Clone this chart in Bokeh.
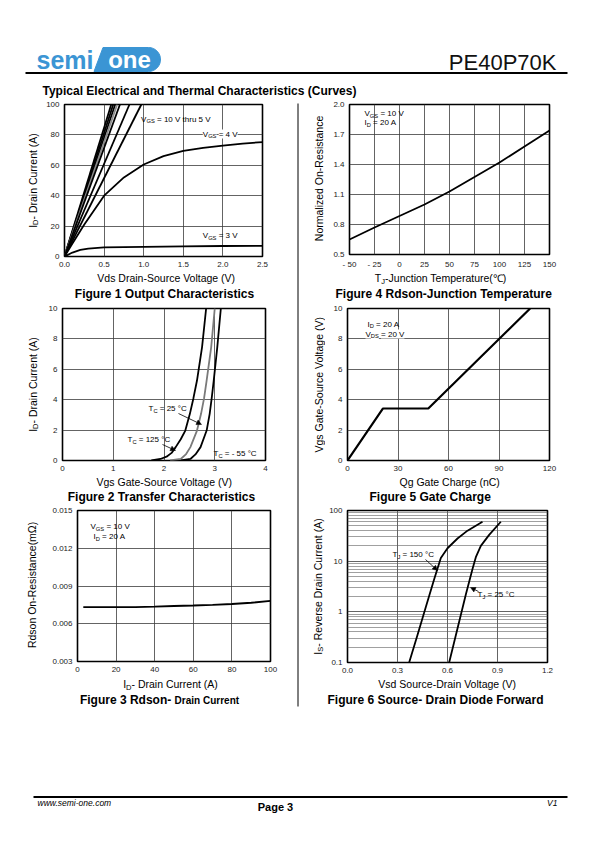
import math
import numpy as np
from bokeh.plotting import figure
from bokeh.layouts import column, row
from bokeh.models import Range1d, FixedTicker, Label, Arrow, NormalHead, NumeralTickFormatter
from bokeh.embed import file_html
from bokeh.resources import INLINE
from bokeh.core.properties import value

FONT = "Liberation Sans"

# ---------------- data ----------------
# Figure 1 Output Characteristics
fig1_vgs_hi_vds_at_100a = [0.59, 0.615, 0.64, 0.665, 0.70, 0.82, 0.97]  # VGS 10 V thru 5 V (straight)
fig1_vgs_hi_id = [0, 100]
fig1_vgs4_vds = [0, 0.1, 0.25, 0.5, 0.75, 1.0, 1.25, 1.5, 1.75, 2.0, 2.25, 2.5]
fig1_vgs4_id = [0, 8.5, 21, 40, 52, 60.5, 66, 69.5, 71.5, 73, 74.3, 75.3]
fig1_vgs3_vds = [0, 0.1, 0.2, 0.3, 0.5, 1.0, 1.5, 2.0, 2.5]
fig1_vgs3_id = [0, 2.6, 4.3, 5.2, 6.0, 6.3, 6.6, 6.9, 7.0]
fig1_x_ticks = [0, 0.5, 1.0, 1.5, 2.0, 2.5]
fig1_y_ticks = [0, 20, 40, 60, 80, 100]

# Figure 4 Rdson-Junction Temperature
fig4_tj = [-50, -25, 0, 25, 50, 75, 100, 125, 150]
fig4_rnorm = [0.65, 0.77, 0.885, 1.0, 1.13, 1.275, 1.42, 1.58, 1.74]
fig4_x_ticks = [-50, -25, 0, 25, 50, 75, 100, 125, 150]
fig4_y_ticks = [0.5, 0.8, 1.1, 1.4, 1.7, 2.0]

# Figure 2 Transfer Characteristics
fig2_vgs_125 = [1.75, 1.93, 2.05, 2.15, 2.23, 2.33, 2.42, 2.51, 2.58, 2.65, 2.75, 2.83]
fig2_id_125 = [0, 0.1, 0.25, 0.5, 0.88, 1.4, 1.97, 3.07, 4.1, 5.26, 7.46, 10]
fig2_vgs_25 = [2.12, 2.33, 2.43, 2.52, 2.65, 2.73, 2.79, 2.84, 2.93, 3.0]
fig2_id_25 = [0, 0.1, 0.4, 0.88, 1.97, 3.07, 4.1, 5.26, 7.46, 10]
fig2_vgs_m55 = [2.33, 2.52, 2.62, 2.72, 2.84, 2.9, 2.94, 2.98, 3.05, 3.12]
fig2_id_m55 = [0, 0.1, 0.4, 0.88, 1.97, 3.07, 4.1, 5.26, 7.46, 10]
fig2_x_ticks = [0, 1, 2, 3, 4]
fig2_y_ticks = [0, 2, 4, 6, 8, 10]

# Figure 5 Gate Charge
fig5_qg = [0, 21, 48, 108.5]
fig5_vgs = [0, 3.42, 3.42, 10]
fig5_x_ticks = [0, 30, 60, 90, 120]
fig5_y_ticks = [0, 2, 4, 6, 8, 10]

# Figure 3 Rdson - Drain Current
fig3_id = [3, 10, 20, 30, 40, 50, 60, 70, 80, 90, 100]
fig3_rdson = [0.00732, 0.00732, 0.00732, 0.00732, 0.00736, 0.00741, 0.00745, 0.0075, 0.00757, 0.00767, 0.00781]
fig3_x_ticks = [0, 20, 40, 60, 80, 100]
fig3_y_ticks = [0.003, 0.006, 0.009, 0.012, 0.015]

# Figure 6 Source-Drain Diode Forward
fig6_vsd_150 = [0.37, 0.42, 0.47, 0.52, 0.56, 0.60, 0.66, 0.72, 0.81]
fig6_is_150 = [0.1, 0.35, 1.25, 4.4, 11.5, 18, 28, 40, 60]
fig6_vsd_25 = [0.61, 0.66, 0.71, 0.75, 0.77, 0.80, 0.85, 0.92]
fig6_is_25 = [0.1, 0.47, 2.2, 7.0, 12, 20, 33, 60]
fig6_x_ticks = [0.0, 0.3, 0.6, 0.9, 1.2]
fig6_y_ticks = [0.1, 1, 10, 100]
fig6_y_minor = [m * d for d in (0.1, 1, 10) for m in range(2, 10)]

# ---------------- text metrics (Arial / Liberation Sans) ----------------
W_REG = {' ': 278, '-': 333, '=': 584, '(': 333, ')': 333, '°': 400, '.': 278, '℃': 1000, 'Ω': 768,
         'A': 667, 'C': 722, 'D': 722, 'E': 667, 'F': 611, 'G': 778, 'I': 278, 'J': 500, 'R': 722,
         'S': 667, 'T': 611, 'V': 667, 'a': 556, 'c': 500, 'd': 556, 'e': 556, 'g': 556, 'h': 556,
         'i': 222, 'j': 222, 'l': 222, 'm': 833, 'n': 556, 'o': 556, 'p': 556, 'r': 333, 's': 500,
         't': 278, 'u': 556, 'v': 500, 'w': 722, 'z': 500}
W_BOLD = {' ': 278, '-': 333, 'F': 611, 'R': 722, 'D': 722, 'C': 722, 'i': 278, 'g': 611, 'u': 611,
          'r': 389, 'e': 556, 'd': 611, 's': 556, 'o': 611, 'n': 611, 'a': 556, 't': 333}


def text_w(s, size, bold=False):
    tab = W_BOLD if bold else W_REG
    return sum(tab.get(c, 556) for c in s) * size / 1000.0


def to_data(g, px, py):
    fx0, fy0, fx1, fy1 = g["frame"]
    x0, x1 = g["xr"]
    y0, y1 = g["yr"]
    dx = x0 + (px - fx0) / (fx1 - fx0) * (x1 - x0)
    t = (fy1 - py) / (fy1 - fy0)
    if g["ylog"]:
        l0, l1 = math.log10(y0), math.log10(y1)
        dy = 10 ** (l0 + t * (l1 - l0))
    else:
        dy = y0 + t * (y1 - y0)
    return dx, dy


def sub_parts(main, sub, rest, size):
    return [(main, size, 0), (sub, round(size * 0.72, 2), size * 0.3), (rest, size, 0)]


def rich_label(p, g, px, py, parts, bg=None):
    """in-frame annotation built from Labels (parts: text, font px, shift down px)"""
    x, y = to_data(g, px, py)
    cum = 0.0
    for t, s, dy in parts:
        stripped = t.lstrip(" ")
        lead = text_w(t[: len(t) - len(stripped)], s)
        p.add_layout(Label(x=x, y=y, text=stripped, x_offset=cum + lead, y_offset=-dy,
                           text_font=FONT, text_font_size=f"{s}px", text_align="left",
                           text_baseline="middle", text_color="black", background_fill_color=bg))
        cum += text_w(t, s)


def rich_page(p, x, y, parts, align="left", vertical=False, bold=False, color="black"):
    """text in a page-coordinate figure (1 unit = 1 px, y downwards)"""
    widths = [text_w(t, s, bold) for t, s, _ in parts]
    total = sum(widths)
    cum = {"left": 0.0, "center": -total / 2.0, "right": -total}[align]
    for (t, s, dy), w in zip(parts, widths):
        stripped = t.lstrip(" ")
        lead = text_w(t[: len(t) - len(stripped)], s, bold)
        pos = cum + lead
        if vertical:
            tx, ty, ang = x + dy, y - pos, math.pi / 2
        else:
            tx, ty, ang = x + pos, y + dy, 0.0
        p.text(x=[tx], y=[ty], text=[stripped.rstrip(" ")], angle=ang, text_font=value(FONT),
               text_font_size=value(f"{s}px"), text_font_style="bold" if bold else "normal",
               text_align="left", text_baseline="middle", text_color=color)
        cum += w


def arrow(p, g, p0, p1):
    x0, y0 = to_data(g, *p0)
    x1, y1 = to_data(g, *p1)
    p.add_layout(Arrow(end=NormalHead(size=5, fill_color="black", line_color="black", line_width=0.5),
                       x_start=x0, y_start=y0, x_end=x1, y_end=y1, line_width=0.8, line_color="black"))


def chart(g):
    bx0, by0, bx1, by1 = g["box"]
    fx0, fy0, fx1, fy1 = g["frame"]
    p = figure(width=bx1 - bx0, height=by1 - by0,
               x_range=Range1d(*g["xr"]), y_range=Range1d(*g["yr"]),
               y_axis_type="log" if g["ylog"] else "linear",
               output_backend="svg", toolbar_location=None,
               min_border_left=fx0 - bx0, min_border_right=bx1 - fx1,
               min_border_top=fy0 - by0, min_border_bottom=by1 - fy1)
    p.frame_align = False
    p.background_fill_color = "white"
    p.border_fill_color = "white"
    p.outline_line_color = "black"
    p.outline_line_width = 1.6
    p.xaxis.ticker = FixedTicker(ticks=g["xt"])
    p.yaxis.ticker = FixedTicker(ticks=g["yt"], minor_ticks=g.get("ymt", []))
    for ax in p.axis:
        ax.axis_line_color = None
        ax.major_tick_line_color = None
        ax.minor_tick_line_color = None
        ax.major_tick_out = 0
        ax.major_tick_in = 0
        ax.minor_tick_out = 0
        ax.minor_tick_in = 0
        ax.major_label_text_font = FONT
        ax.major_label_text_font_size = "8px"
        ax.major_label_text_color = "#222222"
        ax.major_label_standoff = 5
    p.xgrid.grid_line_color = "#3c3c3c"
    p.xgrid.grid_line_width = 0.8
    p.ygrid.grid_line_color = "#3c3c3c"
    p.ygrid.grid_line_width = 0.8
    if g.get("ymt"):
        p.ygrid.minor_grid_line_color = "#606060"
        p.ygrid.minor_grid_line_width = 0.6
    return p


def page_fig(x0, y0, x1, y1):
    p = figure(width=x1 - x0, height=y1 - y0, x_range=Range1d(x0, x1), y_range=Range1d(y1, y0),
               output_backend="svg", toolbar_location=None, min_border=0,
               x_axis_type=None, y_axis_type=None)
    p.frame_align = False
    p.outline_line_color = None
    p.background_fill_color = "white"
    p.border_fill_color = "white"
    return p


def ptext(p, x, y, s, size, style="normal", align="left", color="black", baseline="middle"):
    p.text(x=[x], y=[y], text=[s], text_font=value(FONT), text_font_size=value(f"{size}px"),
           text_font_style=style, text_align=align, text_baseline=baseline, text_color=color)


def cell(g, split_x, chart_bottom, ylabel_parts, ylabel_x, xlabel_parts, xlabel_x, xlabel_y,
         caption_parts, caption_x, caption_y):
    cx0, cy0, cx1, cy1 = g["cell"]
    g["box"] = (split_x, cy0, cx1, chart_bottom)
    ch = chart(g)
    ylf = page_fig(cx0, cy0, split_x, chart_bottom)
    rich_page(ylf, ylabel_x, (g["frame"][1] + g["frame"][3]) / 2.0, ylabel_parts, align="center", vertical=True)
    strip = page_fig(cx0, chart_bottom, cx1, cy1)
    rich_page(strip, xlabel_x, xlabel_y, xlabel_parts, align="center")
    rich_page(strip, caption_x, caption_y, caption_parts, align="center", bold=True)
    return ch, column(row(ylf, ch, spacing=0), strip, spacing=0)


LINE_W = 1.8
LW = 0, 296      # left column x extent
RW = 299, 594    # right column x extent

# ---------------- header ----------------
hdr = page_fig(0, 0, 594, 100)
blue = "#3b95d4"
arc = np.linspace(-math.pi / 2, math.pi / 2, 30)
pill_x = [93.5, 102.5] + [148 + 12 * math.cos(a) for a in arc]
pill_y = [71, 47] + [59 + 12 * math.sin(a) for a in arc]
hdr.patch(pill_x, pill_y, fill_color=blue, line_color=blue)
ptext(hdr, 36, 59.5, "semi", 25, "bold", color=blue)
ptext(hdr, 129, 59, "one", 24, "bold", align="center", color="white")
ptext(hdr, 556, 62, "PE40P70K", 22, "normal", align="right", color="#111111")
hdr.line([25, 567], [72.5, 72.5], line_width=2.2, line_color="black")
ptext(hdr, 42, 90, "Typical Electrical and Thermal Characteristics (Curves)", 12, "bold")

# ---------------- charts ----------------
g1 = dict(cell=(LW[0], 100, LW[1], 304), frame=(63, 104, 262, 256), xr=(0, 2.5), yr=(0, 100), ylog=False,
          xt=fig1_x_ticks, yt=fig1_y_ticks)
g4 = dict(cell=(RW[0], 100, RW[1], 304), frame=(349, 104, 549, 256), xr=(-50, 150), yr=(0.5, 2.0), ylog=False,
          xt=fig4_x_ticks, yt=fig4_y_ticks)
g2 = dict(cell=(LW[0], 304, LW[1], 506), frame=(62, 308, 265, 460), xr=(0, 4), yr=(0, 10), ylog=False,
          xt=fig2_x_ticks, yt=fig2_y_ticks)
g5 = dict(cell=(RW[0], 304, RW[1], 506), frame=(347, 308, 549, 460), xr=(0, 120), yr=(0, 10), ylog=False,
          xt=fig5_x_ticks, yt=fig5_y_ticks)
g3 = dict(cell=(LW[0], 506, LW[1], 712), frame=(77, 510, 270, 661), xr=(0, 100), yr=(0.003, 0.015), ylog=False,
          xt=fig3_x_ticks, yt=fig3_y_ticks)
g6 = dict(cell=(RW[0], 506, RW[1], 712), frame=(347, 510, 547, 662), xr=(0, 1.2), yr=(0.1, 100), ylog=True,
          xt=fig6_x_ticks, yt=fig6_y_ticks, ymt=fig6_y_minor)

XL = 10.5
f1, c1 = cell(g1, 43, 271, sub_parts("I", "D", "- Drain Current (A)", XL), 32,
              [("Vds Drain-Source Voltage (V)", XL, 0)], 166, 277.5,
              [("Figure 1 Output Characteristics", 12, 0)], 162, 293.5)
f1.xaxis.formatter = NumeralTickFormatter(format="0.0")
f1.multi_line(xs=[[0, v] for v in fig1_vgs_hi_vds_at_100a], ys=[fig1_vgs_hi_id] * len(fig1_vgs_hi_vds_at_100a),
              line_color=["black", "black", "black", "#8c8c8c", "black", "black", "black"], line_width=LINE_W)
f1.line(fig1_vgs4_vds, fig1_vgs4_id, line_color="black", line_width=LINE_W)
f1.line(fig1_vgs3_vds, fig1_vgs3_id, line_color="black", line_width=LINE_W)
rich_label(f1, g1, 140, 118.5, sub_parts("V", "GS", " = 10 V thru 5 V", 8))
rich_label(f1, g1, 202, 133.5, sub_parts("V", "GS", " = 4 V", 8), bg="white")
rich_label(f1, g1, 202, 235, sub_parts("V", "GS", " = 3 V", 8))

f4, c4 = cell(g4, 325, 271, [("Normalized On-Resistance", XL, 0)], 318,
              sub_parts("T", "J", "-Junction Temperature(℃)", XL), 441, 277.5,
              [("Figure 4 Rdson-Junction Temperature", 12, 0)], 441, 293.5)
f4.yaxis.formatter = NumeralTickFormatter(format="0.0")
f4.xaxis.major_label_overrides = {-50: "- 50", -25: "- 25"}
f4.line(fig4_tj, fig4_rnorm, line_color="black", line_width=LINE_W)
rich_label(f4, g4, 364, 113, sub_parts("V", "GS", " = 10 V", 8))
rich_label(f4, g4, 364, 122, sub_parts("I", "D", " = 20 A", 8))

f2, c2 = cell(g2, 43, 475, sub_parts("I", "D", "- Drain Current (A)", XL), 32,
              [("Vgs Gate-Source Voltage (V)", XL, 0)], 164, 481,
              [("Figure 2 Transfer Characteristics", 12, 0)], 162, 496.5)
f2.line(fig2_vgs_125, fig2_id_125, line_color="black", line_width=LINE_W)
f2.line(fig2_vgs_25, fig2_id_25, line_color="#7a7a7a", line_width=LINE_W)
f2.line(fig2_vgs_m55, fig2_id_m55, line_color="black", line_width=LINE_W)
rich_label(f2, g2, 148, 408, sub_parts("T", "C", " = 25 °C", 8))
arrow(f2, g2, (178, 413), (201, 424))
rich_label(f2, g2, 127, 439, sub_parts("T", "C", " = 125 °C", 8))
arrow(f2, g2, (162, 444), (175, 450))
rich_label(f2, g2, 213, 453, sub_parts("T", "C", " = - 55 °C", 8))

f5, c5 = cell(g5, 325, 475, [("Vgs Gate-Source Voltage (V)", XL, 0)], 318,
              [("Qg Gate Charge (nC)", XL, 0)], 448, 481,
              [("Figure 5 Gate Charge", 12, 0)], 428, 496.5)
f5.line(fig5_qg, fig5_vgs, line_color="black", line_width=2.2)
rich_label(f5, g5, 367, 323.5, sub_parts("I", "D", " = 20 A", 8))
rich_label(f5, g5, 365, 333.5, sub_parts("V", "DS", " = 20 V", 8), bg="white")

f3, c3 = cell(g3, 43, 676, [("Rdson On-Resistance(mΩ)", XL, 0)], 31,
              sub_parts("I", "D", "- Drain Current (A)", XL), 170, 683.5,
              [("Figure 3 Rdson- ", 12, 0), ("Drain Current", 10, 0.5)], 159, 699.5)
f3.yaxis.formatter = NumeralTickFormatter(format="0.000")
f3.line(fig3_id, fig3_rdson, line_color="black", line_width=LINE_W)
rich_label(f3, g3, 90, 526, sub_parts("V", "GS", " = 10 V", 8))
rich_label(f3, g3, 93, 536, sub_parts("I", "D", " = 20 A", 8))

f6, c6 = cell(g6, 325, 677, sub_parts("I", "S", "- Reverse Drain Current (A)", XL), 317,
              [("Vsd Source-Drain Voltage (V)", XL, 0)], 447, 683.5,
              [("Figure 6 Source- Drain Diode Forward", 12, 0)], 433, 699)
f6.xaxis.formatter = NumeralTickFormatter(format="0.0")
f6.yaxis.formatter = NumeralTickFormatter(format="0.[0]")
f6.line(fig6_vsd_150, fig6_is_150, line_color="black", line_width=LINE_W)
f6.line(fig6_vsd_25, fig6_is_25, line_color="black", line_width=LINE_W)
rich_label(f6, g6, 392, 554, sub_parts("T", "J", " = 150 °C", 8))
arrow(f6, g6, (425, 559), (437, 570))
rich_label(f6, g6, 477, 594, sub_parts("T", "J", " = 25 °C", 8))
arrow(f6, g6, (478, 591), (470, 587))

# ---------------- divider ----------------
divf = page_fig(LW[1], 100, RW[0], 712)
divf.line([297.5, 297.5], [103, 706], line_width=1, line_color="black")

# ---------------- footer ----------------
ftr = page_fig(0, 712, 594, 836)
ftr.line([33, 567], [796.5, 796.5], line_width=2.2, line_color="black")
ptext(ftr, 37, 802, "www.semi-one.com", 8.5, "italic")
ptext(ftr, 275, 806, "Page 3", 11, "bold", align="center")
ptext(ftr, 557, 802, "V1", 8.5, "italic", align="right")

left = column(c1, c2, c3, spacing=0)
right = column(c4, c5, c6, spacing=0)
mid = row(left, divf, right, spacing=0)
page = column(hdr, mid, ftr, spacing=0)

open("out.html", "w").write(file_html(page, INLINE, title="PE40P70K"))
